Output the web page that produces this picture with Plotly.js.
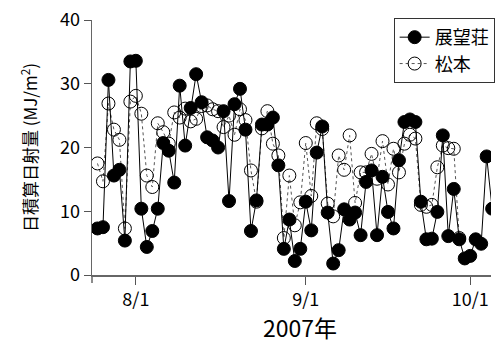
<!DOCTYPE html>
<html>
<head>
<meta charset="utf-8">
<script src="https://cdn.plot.ly/plotly-3.0.1.min.js"></script>
<style>html,body{margin:0;padding:0;background:#fff;}#chart{width:495px;height:344px;}</style>
</head>
<body>
<div id="chart"></div>
<script>
const dates = [
'2007-07-25','2007-07-26','2007-07-27','2007-07-28','2007-07-29','2007-07-30','2007-07-31',
'2007-08-01','2007-08-02','2007-08-03','2007-08-04','2007-08-05','2007-08-06','2007-08-07','2007-08-08','2007-08-09','2007-08-10',
'2007-08-11','2007-08-12','2007-08-13','2007-08-14','2007-08-15','2007-08-16','2007-08-17','2007-08-18','2007-08-19','2007-08-20',
'2007-08-21','2007-08-22','2007-08-23','2007-08-24','2007-08-25','2007-08-26','2007-08-27','2007-08-28','2007-08-29','2007-08-30','2007-08-31',
'2007-09-01','2007-09-02','2007-09-03','2007-09-04','2007-09-05','2007-09-06','2007-09-07','2007-09-08','2007-09-09','2007-09-10',
'2007-09-11','2007-09-12','2007-09-13','2007-09-14','2007-09-15','2007-09-16','2007-09-17','2007-09-18','2007-09-19','2007-09-20',
'2007-09-21','2007-09-22','2007-09-23','2007-09-24','2007-09-25','2007-09-26','2007-09-27','2007-09-28','2007-09-29','2007-09-30',
'2007-10-01','2007-10-02','2007-10-03','2007-10-04','2007-10-05'
];
const tenbousou = [
7.3, 7.5, 30.6, 15.6, 16.5, 5.4, 33.5,
33.6, 10.4, 4.4, 6.9, 10.4, 20.7, 19.5, 14.5, 29.7, 20.3,
26.2, 31.5, 27.1, 21.6, 21.1, 20.0, 25.7, 11.6, 26.8, 29.2,
22.8, 6.9, 11.7, 23.6, 23.6, 24.7, 17.2, 4.1, 8.7, 2.2, 4.1,
11.5, 7.0, 19.2, 23.3, 9.8, 1.8, 3.9, 10.3, 8.7, 9.8,
6.25, 14.6, 16.4, 6.25, 15.4, 9.9, 7.3, 18.0, 24.0, 24.4,
24.0, 11.5, 5.6, 5.7, 9.9, 21.9, 6.1, 13.5, 5.6, 2.6,
3.0, 5.6, 4.9, 18.6, 10.4
];
const matsumoto = [
17.5, 14.7, 26.9, 22.8, 21.2, 7.3, 27.2,
28.1, 25.3, 15.6, 13.8, 23.8, 22.4, 20.6, 25.5, 24.7, 26.1,
24.1, 24.5, 26.5, 26.6, 26.0, 25.7, 23.2, 25.0, 22.0, 26.0,
24.3, 16.4, 11.5, 23.0, 25.7, 20.6, 18.75, 5.8, 15.6, 7.8, 11.4,
20.7, 12.4, 23.8, 22.9, 11.2, 9.2, 18.75, 16.5, 21.9, 11.3,
16.1, 16.1, 19.0, 15.1, 21.0, 14.2, 19.8, 16.1, 20.6, 22.0,
21.4, 11.0, 10.7, 11.0, 16.9, 20.3, 19.9, 19.8, 5.8
];
const seriesNames = ['展望荘', '松本'];
const xTickVals = ['2007-08-01', '2007-09-01', '2007-10-01'];
const xTickText = ['8/1', '9/1', '10/1'];
const yTickVals = [0, 10, 20, 30, 40];
const xTitle = '2007年';
const yTitle = '日積算日射量 (MJ/m<sup>2</sup>)';

const FONT = "'Noto Sans CJK JP', 'Noto Sans', sans-serif";

const traces = [
  {
    x: dates.slice(0, matsumoto.length), y: matsumoto, name: seriesNames[1],
    type: 'scatter', mode: 'lines+markers', legendrank: 2,
    line: {color: '#555', width: 1, dash: 'dot'},
    marker: {symbol: 'circle-open', size: 13, color: '#000', line: {width: 1, color: '#000'}}
  },
  {
    x: dates, y: tenbousou, name: seriesNames[0],
    type: 'scatter', mode: 'lines+markers', legendrank: 1,
    line: {color: '#000', width: 1},
    marker: {symbol: 'circle', size: 13, color: '#000', line: {width: 1, color: '#000'}}
  }
];

const layout = {
  width: 495, height: 344,
  margin: {l: 92, r: 0, t: 20, b: 69},
  paper_bgcolor: '#fff', plot_bgcolor: '#fff',
  font: {family: FONT, size: 18, color: '#000'},
  showlegend: true,
  legend: {
    x: 0.756, y: 1.008, xanchor: 'left', yanchor: 'top',
    bgcolor: '#fff', bordercolor: '#333', borderwidth: 1,
    font: {family: FONT, size: 18, color: '#000'},
    tracegroupgap: 0
  },
  xaxis: {
    type: 'date',
    range: ['2007-07-24 00:00', '2007-10-04 19:00'],
    tickmode: 'array', tickvals: xTickVals, ticktext: xTickText,
    ticks: 'outside', ticklen: 8, tickwidth: 1, tickcolor: '#555',
    showline: true, linecolor: '#666', linewidth: 1.5,
    showgrid: false, zeroline: false,
    tickfont: {family: FONT, size: 18, color: '#000'}
  },
  yaxis: {
    range: [0, 40],
    tickmode: 'array', tickvals: yTickVals,
    ticks: 'outside', ticklen: 7, tickwidth: 1, tickcolor: '#555',
    showline: true, linecolor: '#666', linewidth: 1.5,
    showgrid: false, zeroline: false,
    tickfont: {family: FONT, size: 18, color: '#000'},
    title: {text: yTitle, font: {family: FONT, size: 17, color: '#000'}, standoff: 18}
  },
  shapes: [
    {type: 'line', xref: 'paper', yref: 'paper', x0: 0, x1: 0, y0: 0, y1: -8 / 255,
     line: {color: '#666', width: 1.5}}
  ],
  annotations: [
    {text: xTitle, xref: 'paper', yref: 'paper', x: 0.521, y: -0.205,
     xanchor: 'center', yanchor: 'middle', showarrow: false,
     font: {family: FONT, size: 23, color: '#000'}}
  ]
};

Plotly.newPlot('chart', traces, layout, {displayModeBar: false, staticPlot: true});
</script>
</body>
</html>
